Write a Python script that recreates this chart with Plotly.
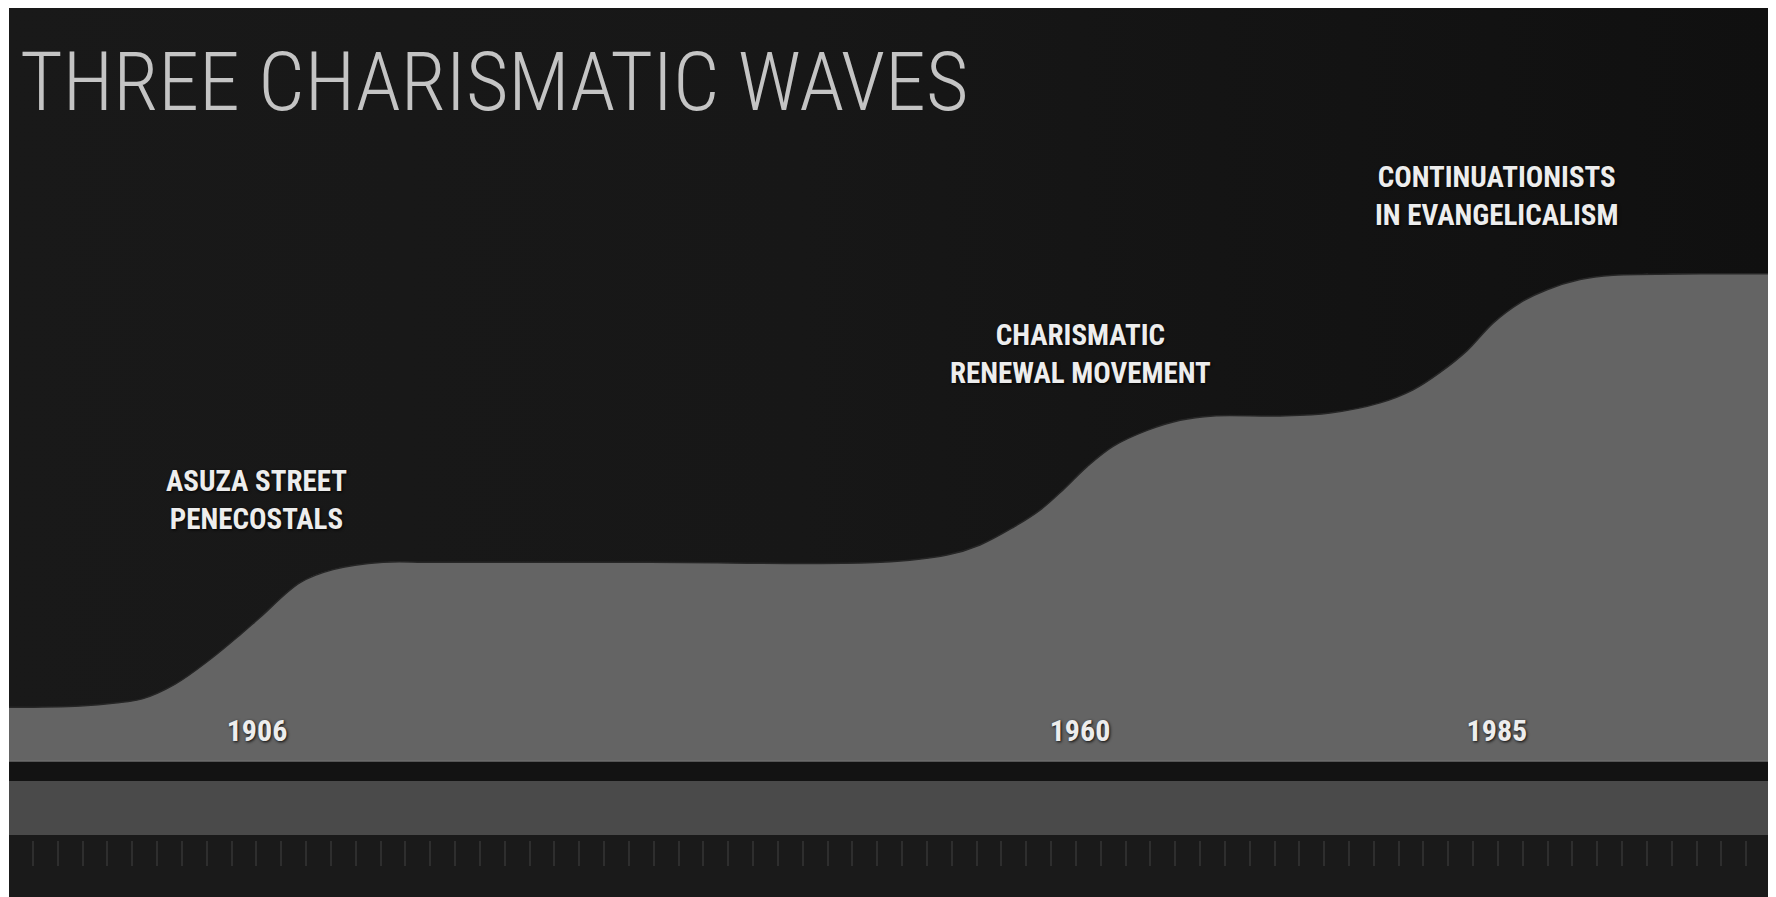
import plotly.graph_objects as go

# ---------------- data ----------------
title_text = "THREE CHARISMATIC WAVES"

# timeline position (0-100 across the chart) and relative movement size
timeline_pos = [0, 4.02, 6.01, 7.59, 9.41, 11.39, 13.09, 14.22, 16.49, 18.36, 21.19, 24.02,
                36.32, 49.35,
                53.14, 55.01, 56.88, 58.41, 59.72, 61.08, 62.55, 64.48, 66.35, 68.22,
                72.01, 74.84,
                77.68, 79.55, 81.08, 82.61, 84.08, 85.61, 87.14, 89.01, 90.88, 95.81, 100]
movement_size = [37, 38, 40, 43, 53, 70, 87, 99, 123, 132, 137, 137,
                 137, 137,
                 142, 149, 161, 173, 187, 203, 217, 228, 235, 238,
                 238, 240,
                 247, 256, 268, 283, 302, 316, 325, 332, 335, 336, 336]

wave_years = ["1906", "1960", "1985"]
wave_positions = [14.05, 60.68, 84.3]
wave_labels = ["ASUZA STREET<br>PENECOSTALS",
               "CHARISMATIC<br>RENEWAL MOVEMENT",
               "CONTINUATIONISTS<br>IN EVANGELICALISM"]

# ---------------- layout constants ----------------
OFF = 8                     # browser body margin
W, H = 1760, 889
ML, MR, MT, MB = 1, 0, 0, 0
PX_PER_UNIT = 1.45          # vertical pixels per movement-size unit
BASE_PAGE = 761             # page pixel row of size 0
X_LEFT_PAGE = 9
PX_PER_X = 17.65
plot_w = W - ML - MR
plot_h = H - MT - MB


def ypage_to_unit(p):
    return (BASE_PAGE - p) / PX_PER_UNIT


def ypage_to_paper(p):
    return (H - MB - (p - OFF)) / plot_h


def xpage_to_paper(p):
    return (p - X_LEFT_PAGE) / plot_w


x_range = [0, plot_w / PX_PER_X]
y_range = [ypage_to_unit(OFF + H - MB), ypage_to_unit(OFF + MT)]
label_y = [ypage_to_unit(500), ypage_to_unit(354), ypage_to_unit(196)]

cond_font = "Roboto Condensed, Liberation Sans Narrow, DejaVu Sans Condensed, sans-serif"
shadow = "1px 1px 3px rgba(0,0,0,0.9)"

fig = go.Figure()

# subtle background shading of the dark canvas (decoration)
fig.add_trace(go.Scatter(
    x=[x_range[0], x_range[1], x_range[1], x_range[0], x_range[0]],
    y=[0, 0, y_range[1], y_range[1], 0],
    mode="none", fill="toself",
    fillgradient=dict(type="horizontal",
                      colorscale=[[0, "#191919"], [0.45, "#171717"], [1, "#101010"]]),
    hoverinfo="skip", showlegend=False,
))

fig.add_trace(go.Scatter(
    x=timeline_pos, y=movement_size,
    mode="lines",
    line=dict(color="#262626", width=1.5, shape="spline", smoothing=1.0),
    fill="tozeroy", fillcolor="#646464",
    hoverinfo="skip", showlegend=False,
))

# invisible trace for the ruler axis
fig.add_trace(go.Scatter(x=x_range, y=[None, None], xaxis="x2", showlegend=False,
                         hoverinfo="skip", mode="lines"))

shapes = [
    dict(type="rect", xref="paper", yref="y", x0=0, x1=1, y0=0, y1=ypage_to_unit(781),
         fillcolor="#131313", line=dict(width=0), layer="below"),
    dict(type="rect", xref="paper", yref="y", x0=0, x1=1, y0=ypage_to_unit(781), y1=ypage_to_unit(835),
         fillcolor="#4a4a4a", line=dict(width=0), layer="below"),
    dict(type="rect", xref="paper", yref="y", x0=0, x1=1, y0=ypage_to_unit(835), y1=y_range[0],
         fillcolor="#1a1a1a", line=dict(width=0), layer="below"),
    dict(type="line", xref="paper", yref="y", x0=0, x1=1, y0=0, y1=0,
         line=dict(color="#6e6e6e", width=1.5)),
]

annotations = [
    dict(text=title_text, xref="paper", yref="paper",
         x=xpage_to_paper(18), y=ypage_to_paper(82),
         xanchor="left", yanchor="middle", showarrow=False,
         font=dict(family=cond_font, size=82, color="#c4c4c4", weight=300)),
]
for lbl, xp, yp in zip(wave_labels, wave_positions, label_y):
    annotations.append(dict(
        text=lbl, x=xp, y=yp, xref="x", yref="y", showarrow=False,
        xanchor="center", yanchor="middle", align="center",
        font=dict(family=cond_font, size=29, color="#ededed", weight="bold", shadow=shadow),
    ))

ruler_px0, ruler_dpx = 33, 24.83

fig.update_layout(
    width=W, height=H,
    margin=dict(l=ML, r=MR, t=MT, b=MB),
    paper_bgcolor="#ffffff",
    plot_bgcolor="#141414",
    shapes=shapes,
    annotations=annotations,
    xaxis=dict(
        range=x_range, showgrid=False, zeroline=False, showline=False,
        anchor="free", position=ypage_to_paper(BASE_PAGE),
        tickmode="array", tickvals=wave_positions, ticktext=wave_years,
        ticks="", ticklabelposition="inside", ticklabelstandoff=11,
        tickfont=dict(family=cond_font, size=30, color="#ededed", weight="bold", shadow=shadow),
        fixedrange=True,
    ),
    xaxis2=dict(
        range=x_range, overlaying="x", anchor="free", position=ypage_to_paper(840),
        showgrid=False, zeroline=False, showline=False, showticklabels=False,
        tickmode="linear", tick0=(ruler_px0 - X_LEFT_PAGE) / PX_PER_X, dtick=ruler_dpx / PX_PER_X,
        ticks="outside", ticklen=25, tickwidth=1.5, tickcolor="#2e2e2e",
    ),
    yaxis=dict(range=y_range, visible=False, fixedrange=True),
    showlegend=False,
)

fig.write_html("out.html")
